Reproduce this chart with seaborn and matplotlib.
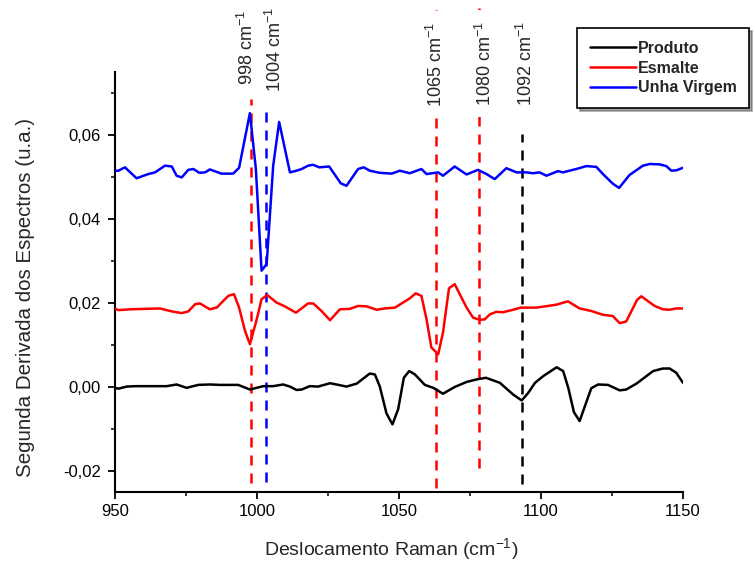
import numpy as np
import pandas as pd
import matplotlib
matplotlib.use("Agg")
import matplotlib.pyplot as plt
import seaborn as sns
from matplotlib.ticker import MultipleLocator, FuncFormatter

sns.set_style("ticks")
plt.rcParams['font.family'] = ['Liberation Sans', 'DejaVu Sans']
plt.rcParams['mathtext.fontset'] = 'custom'
plt.rcParams['mathtext.rm'] = 'Liberation Sans'
plt.rcParams['mathtext.it'] = 'Liberation Sans:italic'
plt.rcParams['mathtext.bf'] = 'Liberation Sans:bold'

# ---- data ----
series_names = ["Produto", "Esmalte", "Unha Virgem"]
series_colors = ["#000000", "#ff0000", "#0000ff"]

produto_x = [950, 951.2, 954.1, 957.0, 968.2, 971.7, 975.2, 979.3, 983.4, 986.9, 993.4, 997.5,
             1002.2, 1005.7, 1009.2, 1011.6, 1013.9, 1015.7, 1018.6, 1021.5, 1025.7, 1028.0,
             1031.5, 1035.1, 1039.7, 1041.5, 1043.2, 1045.6, 1047.7, 1049.7, 1051.7, 1053.6,
             1055.6, 1059.1, 1062.1, 1065.5, 1069.6, 1073.8, 1077.3, 1080.6, 1085.5, 1090.2,
             1093.2, 1095.5, 1097.9, 1100.8, 1105.5, 1107.8, 1109.6, 1111.6, 1113.6, 1117.7,
             1120.1, 1123.6, 1127.7, 1130.0, 1133.6, 1139.5, 1142.9, 1145.3, 1147.6, 1150.0]
produto_y = [-0.0002, -0.0004, 0.0001, 0.0002, 0.0002, 0.0006, -0.0002, 0.0005, 0.0006, 0.0005,
             0.0005, -0.0006, 0.0002, 0.0002, 0.0006, 0.0001, -0.0007, -0.0006, 0.0002, 0.0001,
             0.0009, 0.0006, 0.0001, 0.0008, 0.0032, 0.0030, 0.0002, -0.0063, -0.0089, -0.0053,
             0.0022, 0.0038, 0.0030, 0.0005, -0.0002, -0.0016, 0.0000, 0.0012, 0.0018, 0.0022,
             0.0010, -0.0018, -0.0032, -0.0014, 0.0010, 0.0026, 0.0047, 0.0038, -0.0002, -0.0060,
             -0.0081, -0.0003, 0.0006, 0.0005, -0.0008, -0.0006, 0.0008, 0.0038, 0.0044, 0.0044,
             0.0034, 0.0010]

esmalte_x = [950, 951.2, 955.3, 965.8, 970.0, 973.5, 975.8, 978.2, 979.9, 983.4, 985.8, 989.9,
             991.9, 993.7, 995.8, 997.5, 999.9, 1001.6, 1003.6, 1006.9, 1009.8, 1013.7, 1018.0,
             1019.8, 1022.7, 1025.7, 1029.2, 1032.7, 1035.6, 1038.6, 1042.1, 1045.0, 1048.6,
             1051.4, 1053.8, 1055.9, 1057.9, 1059.7, 1061.4, 1063.8, 1065.5, 1067.6, 1069.6,
             1073.8, 1076.1, 1078.5, 1080.2, 1082.0, 1084.3, 1086.6, 1090.2, 1092.8, 1098.4,
             1105.4, 1109.5, 1113.6, 1117.7, 1121.8, 1125.3, 1127.7, 1130.0, 1133.8, 1135.3,
             1140.0, 1142.9, 1145.3, 1147.6, 1150.0]
esmalte_y = [0.0187, 0.0183, 0.0185, 0.0187, 0.0180, 0.0176, 0.0180, 0.0197, 0.0199, 0.0185,
             0.0189, 0.0217, 0.0221, 0.0189, 0.0133, 0.0102, 0.0161, 0.0209, 0.0219, 0.0201,
             0.0192, 0.0177, 0.0199, 0.0199, 0.0181, 0.0159, 0.0185, 0.0186, 0.0193, 0.0192,
             0.0184, 0.0187, 0.0189, 0.0201, 0.0211, 0.0223, 0.0217, 0.0161, 0.0094, 0.0078,
             0.0130, 0.0235, 0.0245, 0.0189, 0.0165, 0.0160, 0.0161, 0.0173, 0.0179, 0.0178,
             0.0184, 0.0189, 0.0189, 0.0196, 0.0204, 0.0187, 0.0181, 0.0172, 0.0169, 0.0152,
             0.0156, 0.0207, 0.0216, 0.0193, 0.0185, 0.0184, 0.0187, 0.0187]

unha_x = [950, 951.2, 953.5, 957.6, 961.7, 964.1, 967.6, 970.0, 971.7, 973.5, 975.8, 977.6,
          979.7, 981.7, 983.4, 987.5, 991.6, 993.7, 997.5, 999.6, 1001.6, 1003.4, 1005.7,
          1007.8, 1011.6, 1013.9, 1015.7, 1018.0, 1019.8, 1021.9, 1025.4, 1029.5, 1031.5,
          1035.6, 1037.6, 1039.7, 1043.2, 1047.4, 1050.3, 1053.8, 1057.9, 1059.7, 1063.8,
          1065.5, 1069.6, 1073.8, 1077.8, 1080.8, 1083.7, 1087.8, 1091.4, 1094.9, 1097.2,
          1099.5, 1101.9, 1106.0, 1107.7, 1112.4, 1116.0, 1119.5, 1121.8, 1125.3, 1127.5,
          1131.2, 1135.9, 1138.3, 1141.8, 1144.1, 1145.9, 1147.7, 1150.0]
unha_y = [0.0515, 0.0515, 0.0523, 0.0497, 0.0507, 0.0511, 0.0527, 0.0525, 0.0503, 0.0499,
          0.0517, 0.0519, 0.0510, 0.0511, 0.0518, 0.0508, 0.0508, 0.0522, 0.0652, 0.0519,
          0.0277, 0.0293, 0.0527, 0.0631, 0.0511, 0.0515, 0.0519, 0.0527, 0.0529, 0.0523,
          0.0525, 0.0485, 0.0479, 0.0519, 0.0523, 0.0515, 0.0510, 0.0508, 0.0515, 0.0509,
          0.0519, 0.0507, 0.0511, 0.0503, 0.0525, 0.0506, 0.0517, 0.0507, 0.0495, 0.0521,
          0.0511, 0.0511, 0.0509, 0.0511, 0.0503, 0.0514, 0.0511, 0.0519, 0.0526, 0.0524,
          0.0507, 0.0484, 0.0474, 0.0505, 0.0527, 0.0531, 0.0530, 0.0526, 0.0515, 0.0516,
          0.0522]

# marker lines (position drawn, label, colour, extent)
mark_x = [997.8, 1003.2, 1063.2, 1078.3, 1093.2]
mark_labels = ["998 cm$^{-1}$", "1004 cm$^{-1}$", "1065 cm$^{-1}$", "1080 cm$^{-1}$", "1092 cm$^{-1}$"]
mark_colors = ["#ff0000", "#0000ff", "#ff0000", "#ff0000", "#000000"]
mark_ytop = [0.0686, 0.0655, 0.0913, 0.0913, 0.0603]
mark_ybot = [-0.0228, -0.0225, -0.0240, -0.0192, -0.0230]
label_x = [996.3, 1006.3, 1063.0, 1080.2, 1094.8]
label_y = [0.0720, 0.0703, 0.0667, 0.0669, 0.0669]
label_pad = [2, 2, 8, 8, 2]

xticks = [950, 1000, 1050, 1100, 1150]
yticks = [-0.02, 0.00, 0.02, 0.04, 0.06]

df = pd.concat([
    pd.DataFrame({"x": produto_x, "y": produto_y, "s": series_names[0]}),
    pd.DataFrame({"x": esmalte_x, "y": esmalte_y, "s": series_names[1]}),
    pd.DataFrame({"x": unha_x, "y": unha_y, "s": series_names[2]}),
], ignore_index=True)

fig = plt.figure(figsize=(7.55, 5.64), dpi=100)
ax = fig.add_axes([115/755, 1-492/564, (683-115)/755, (492-72)/564])

for xv, c, yt, yb in zip(mark_x, mark_colors, mark_ytop, mark_ybot):
    ax.plot([xv, xv], [yb, yt], color=c, lw=1.8, ls=(0, (4.0, 3.2)), clip_on=False, zorder=1)

sns.lineplot(data=df, x="x", y="y", hue="s", hue_order=series_names,
             palette=dict(zip(series_names, series_colors)), estimator=None,
             sort=False, lw=1.8, ax=ax, legend=True, zorder=3)

for lx, ly, t, pd_ in zip(label_x, label_y, mark_labels, label_pad):
    ax.text(lx, ly, t, rotation=90, ha="center", va="bottom", fontsize=13,
            bbox=dict(facecolor="white", edgecolor="none", pad=pd_), clip_on=False, zorder=4)

ax.set_xlim(950, 1150)
ax.set_ylim(-0.025, 0.075)
ax.set_xticks(xticks)
ax.set_yticks(yticks)
ax.xaxis.set_minor_locator(MultipleLocator(25))
ax.yaxis.set_minor_locator(MultipleLocator(0.01))
ax.yaxis.set_major_formatter(FuncFormatter(lambda v, p: ("%.2f" % v).replace(".", ",").replace("-0,00", "0,00")))
ax.tick_params(axis="both", which="major", direction="out", length=5, width=1.3, labelsize=12, colors="black")
ax.tick_params(axis="y", which="major", pad=5)
ax.tick_params(axis="both", which="minor", direction="out", length=3, width=1.3)
for side in ["left", "bottom"]:
    ax.spines[side].set_linewidth(1.5)
    ax.spines[side].set_color("black")
sns.despine(ax=ax)

ax.set_xlabel("Deslocamento Raman (cm$^{-1}$)", fontsize=14)
ax.xaxis.set_label_coords(0.486, -0.105)
ax.set_ylabel("Segunda Derivada dos Espectros (u.a.)", fontsize=14.8)
ax.yaxis.set_label_coords(-0.141, 0.462)

handles, labels = ax.get_legend_handles_labels()
ax.legend(handles, labels, loc="upper left", bbox_to_anchor=(577/755, 1-28/564),
          bbox_transform=fig.transFigure, borderaxespad=0, frameon=True, fancybox=False,
          shadow=True, edgecolor="black", framealpha=1, handlelength=2.9, handletextpad=0.1,
          labelspacing=0.3, borderpad=0.8, prop={"weight": "bold", "size": 11.5})
leg = ax.get_legend()
leg.get_frame().set_linewidth(1.2)

fig.savefig("out.png", dpi=100)
